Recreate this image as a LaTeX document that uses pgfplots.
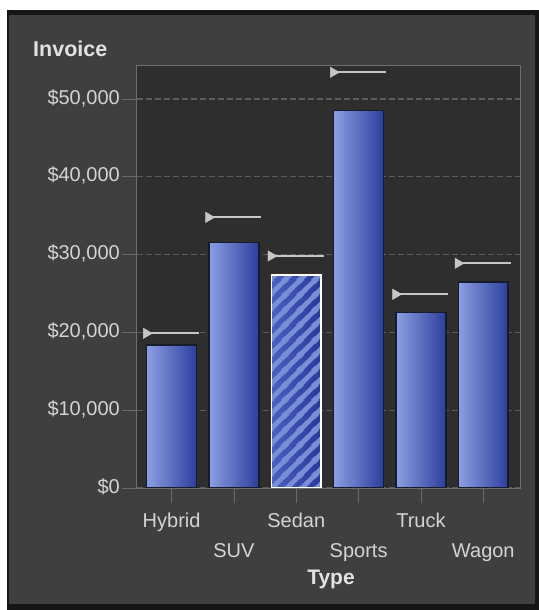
\documentclass[border=0pt]{standalone}
\usepackage{pgfplots}
\usepackage{pgfplotstable}
\pgfplotsset{compat=1.18}
\usepackage{fontspec}
\setmainfont{Liberation Sans}
\usetikzlibrary{patterns}

\definecolor{frameblack}{HTML}{151515}
\definecolor{panel}{HTML}{3F3F3F}
\definecolor{plotbg}{HTML}{2E2E2E}
\definecolor{gridc}{HTML}{5C5C5C}
\definecolor{framec}{HTML}{6E6E6E}
\definecolor{tickc}{HTML}{6A6A6A}
\definecolor{labelc}{HTML}{D4D4D4}
\definecolor{titlec}{HTML}{E2E2E2}
\definecolor{barL}{HTML}{8C9EE2}
\definecolor{barM}{HTML}{5068CC}
\definecolor{barR}{HTML}{2C3E9C}
\definecolor{halo}{HTML}{171B2E}
\definecolor{refc}{HTML}{C6C6C6}
\definecolor{stripe}{HTML}{7A8ED6}
\definecolor{selL}{HTML}{4A60C2}
\definecolor{selR}{HTML}{26399A}

% wide diagonal stripes for the selected bar (15bp horizontal period)
\pgfdeclarepatternformonly{widestripes}{\pgfpointorigin}{\pgfpoint{15bp}{15bp}}{\pgfpoint{15bp}{15bp}}{
  \pgfsetlinewidth{5bp}
  \pgfpathmoveto{\pgfpoint{-5bp}{-5bp}}\pgfpathlineto{\pgfpoint{20bp}{20bp}}
  \pgfpathmoveto{\pgfpoint{-5bp}{10bp}}\pgfpathlineto{\pgfpoint{5bp}{20bp}}
  \pgfpathmoveto{\pgfpoint{10bp}{-5bp}}\pgfpathlineto{\pgfpoint{20bp}{5bp}}
  \pgfusepath{stroke}
}

% reference level per type, drawn as a short line with a pointer
\pgfplotstableread{
x y
-0.44 19880
0.44 19880
nan nan
0.56 34790
1.44 34790
nan nan
1.56 29820
2.44 29820
nan nan
2.56 53430
3.44 53430
nan nan
3.56 24900
4.44 24900
nan nan
4.56 28880
5.44 28880
}\refsegments

\pgfplotstableread{
x y
-0.406 19880
0.594 34790
1.594 29820
2.594 53430
3.594 24900
4.594 28880
}\refpointers

\pgfplotsset{
  invoicebar/.style={ybar, bar shift=0pt, bar width=0.8, draw=halo, line width=1.5bp,
    left color=barL, middle color=barM, right color=barR},
}

\begin{document}
\begin{tikzpicture}[x=1bp,y=1bp]
% panel and outer frame
\fill[white] (0,0) rectangle (539,610);
\fill[frameblack] (7,0) rectangle (539,600);
\fill[panel] (9,6) rectangle (535,595);

\begin{axis}[
  at={(136.7bp,122bp)}, anchor=south west,
  scale only axis, width=384bp, height=423bp,
  xmin=-0.56, xmax=5.6, ymin=0, ymax=54370,
  enlargelimits=false,
  scaled y ticks=false,
  axis background/.style={fill=plotbg},
  axis line style={draw=framec, line width=0.8bp},
  tick align=outside, major tick length=15bp,
  xtick pos=lower, ytick pos=left,
  tick style={draw=tickc, line width=0.8bp},
  ymajorgrids,
  major grid style={draw=gridc, line width=1.2bp, dash pattern=on 6bp off 3bp},
  ytick={0,10000,20000,30000,40000,50000},
  yticklabels={{\$0},{\$10,000},{\$20,000},{\$30,000},{\$40,000},{\$50,000}},
  xtick={0,2,4},
  xticklabels={Hybrid,Sedan,Truck},
  extra x ticks={1,3,5},
  extra x tick labels={SUV,Sports,Wagon},
  extra x tick style={xticklabel style={yshift=-29bp}},
  tick label style={font=\fontsize{20bp}{24bp}\selectfont, text=labelc},
  yticklabel style={anchor=east, inner sep=0pt, xshift=-1.7bp, yshift=1bp},
  xticklabel style={anchor=base, inner sep=0pt, yshift=-25bp},
  xlabel={Type}, ylabel={Invoice},
  every axis x label/.style={at={(axis description cs:0.506,-0.229)}, anchor=base,
    inner sep=0pt, font=\bfseries\fontsize{21bp}{25bp}\selectfont, text=titlec},
  every axis y label/.style={at={(axis description cs:-0.270,1.019)}, anchor=base west,
    inner sep=0pt, font=\bfseries\fontsize{21.5bp}{25bp}\selectfont, text=titlec},
]

% mean invoice by vehicle type, one bar each so every bar gets its own shading
\addplot[invoicebar] coordinates {(0,18380)};
\addplot[invoicebar] coordinates {(1,31530)};
\addplot[invoicebar] coordinates {(3,48500)};
\addplot[invoicebar] coordinates {(4,22530)};
\addplot[invoicebar] coordinates {(5,26480)};

% highlighted Sedan bar: darker base, stripes and white outline
\addplot[ybar, bar shift=0pt, bar width=0.8, draw=none,
  left color=selL, right color=selR]
  coordinates {(2,27380)};
\addplot[ybar, bar shift=0pt, bar width=0.8, draw=white, line width=1.6bp,
  pattern=widestripes, pattern color=stripe]
  coordinates {(2,27380)};

% reference levels
\addplot[draw=refc, line width=2bp, unbounded coords=jump, mark=none]
  table[x=x, y=y] {\refsegments};
\addplot[only marks, mark=triangle*, mark size=6bp,
  mark options={rotate=-90, fill=refc, draw=refc}]
  table[x=x, y=y] {\refpointers};
\end{axis}
\end{tikzpicture}
\end{document}
